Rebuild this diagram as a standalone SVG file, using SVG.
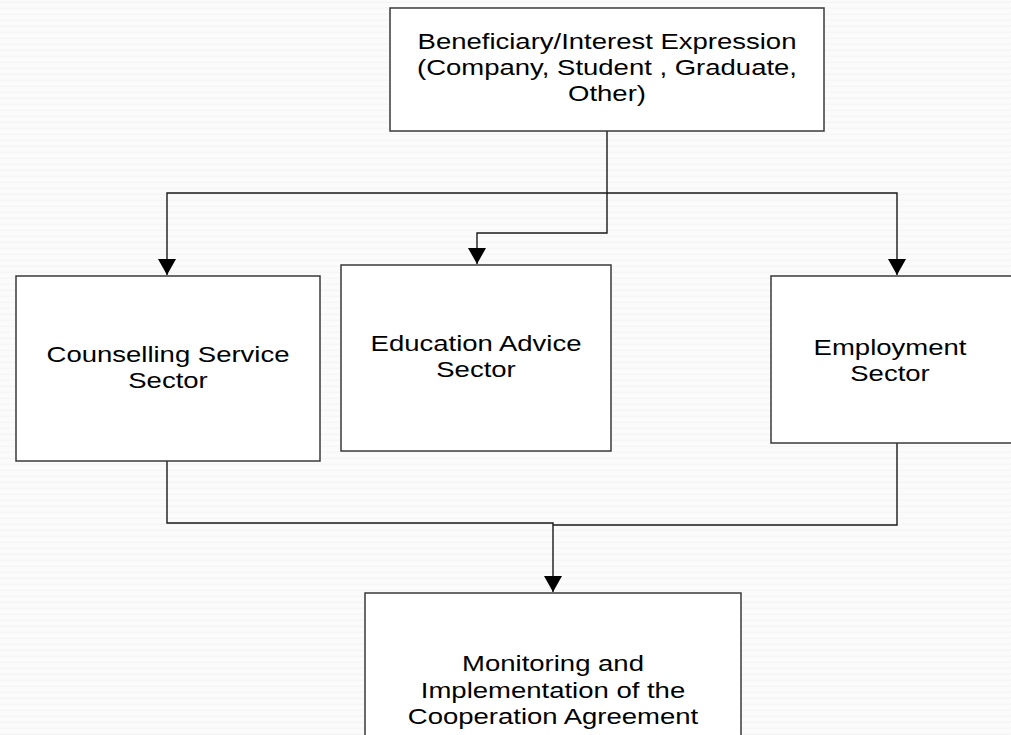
<svg xmlns="http://www.w3.org/2000/svg" width="1011" height="735" viewBox="0 0 1011 735">
  <style>
    .box { fill: #ffffff; stroke: #3a3a3a; stroke-width: 1.5; }
    .lbl { font-family: "Liberation Sans", Arial, sans-serif; font-size: 22px; fill: #000000; text-anchor: middle; }
    .wire { fill: none; stroke: #1a1a1a; stroke-width: 1.4; }
  </style>
  <defs>
    <marker id="arrow" markerUnits="userSpaceOnUse" markerWidth="20" markerHeight="18" viewBox="0 0 20 18" refX="10" refY="17" orient="0">
      <path d="M1,1 L19,1 L10,17 Z" fill="#000000"/>
    </marker>
    <pattern id="grain" width="8" height="6" patternUnits="userSpaceOnUse">
      <rect width="8" height="6" fill="#fbfbfb"/>
      <path d="M0,3 L2,1.5 L4,3 L6,1.5 L8,3" fill="none" stroke="#f4f4f4" stroke-width="1"/>
    </pattern>
  </defs>

  <!-- page background -->
  <rect x="0" y="0" width="1011" height="735" fill="url(#grain)"/>

  <!-- connectors -->
  <g id="connectors">
    <path class="wire" d="M607,131 V193 H167 V275" marker-end="url(#arrow)"/>
    <path class="wire" d="M607,193 H897 V275" marker-end="url(#arrow)"/>
    <path class="wire" d="M607,193 V233 H477 V264" marker-end="url(#arrow)"/>
    <path class="wire" d="M167,461 V523 H553 V592" marker-end="url(#arrow)"/>
    <path class="wire" d="M897,443 V525 H553"/>
  </g>

  <!-- labels are widened horizontally around each box centre -->
  <g id="beneficiary">
    <rect class="box" x="390" y="8" width="434" height="123"/>
    <g transform="translate(607,0) scale(1.25,1)">
      <text class="lbl" x="0" y="49">Beneficiary/Interest Expression</text>
      <text class="lbl" x="0" y="75">(Company, Student , Graduate,</text>
      <text class="lbl" x="0" y="101">Other)</text>
    </g>
  </g>

  <g id="counselling">
    <rect class="box" x="16" y="276" width="304" height="185"/>
    <g transform="translate(168,0) scale(1.25,1)">
      <text class="lbl" x="0" y="362">Counselling Service</text>
      <text class="lbl" x="0" y="388">Sector</text>
    </g>
  </g>

  <g id="education">
    <rect class="box" x="341" y="265" width="270" height="186"/>
    <g transform="translate(476,0) scale(1.25,1)">
      <text class="lbl" x="0" y="351">Education Advice</text>
      <text class="lbl" x="0" y="377">Sector</text>
    </g>
  </g>

  <g id="employment">
    <rect class="box" x="771" y="276" width="245" height="167"/>
    <g transform="translate(890,0) scale(1.25,1)">
      <text class="lbl" x="0" y="355">Employment</text>
      <text class="lbl" x="0" y="381">Sector</text>
    </g>
  </g>

  <g id="monitoring">
    <rect class="box" x="365" y="593" width="376" height="150"/>
    <g transform="translate(553,0) scale(1.25,1)">
      <text class="lbl" x="0" y="671">Monitoring and</text>
      <text class="lbl" x="0" y="698">Implementation of the</text>
      <text class="lbl" x="0" y="724">Cooperation Agreement</text>
    </g>
  </g>
</svg>
